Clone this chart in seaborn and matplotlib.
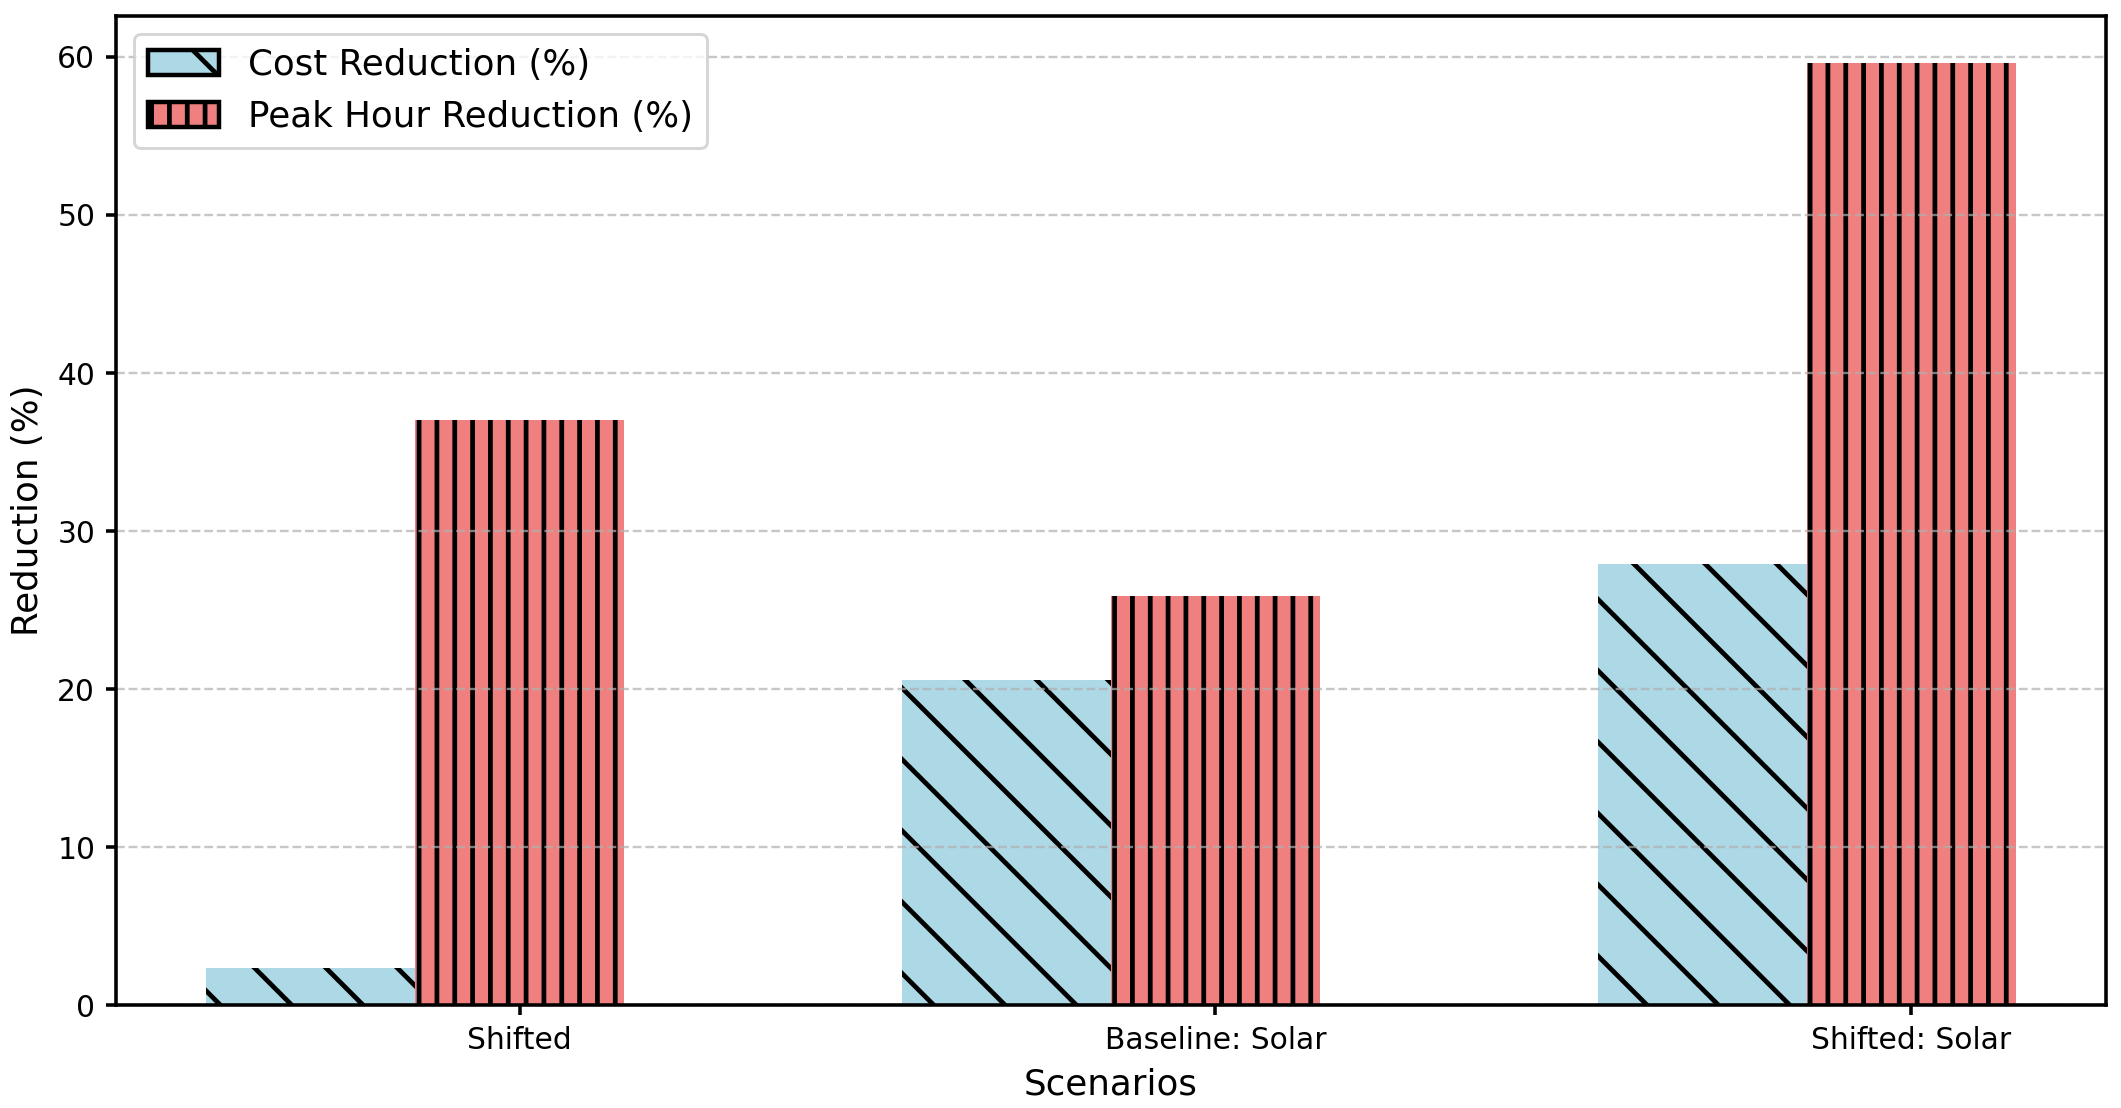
import pandas as pd
import matplotlib
matplotlib.use("Agg")
import matplotlib.pyplot as plt
from matplotlib.patches import Patch
import seaborn as sns

# Data
scenarios = ["Shifted", "Baseline: Solar", "Shifted: Solar"]
cost_reduction = [2.37, 20.6, 27.95]
peak_reduction = [37.0, 25.9, 59.6]
metrics = ["Cost Reduction (%)", "Peak Hour Reduction (%)"]
colors = ["lightblue", "lightcoral"]
hatches = ["\\", "||"]

df = pd.DataFrame({
    "Scenario": scenarios * 2,
    "Metric": [metrics[0]] * 3 + [metrics[1]] * 3,
    "Reduction": cost_reduction + peak_reduction,
})

plt.rcParams["hatch.color"] = "black"
plt.rcParams["hatch.linewidth"] = 1.6
plt.rcParams["axes.linewidth"] = 1.2
plt.rcParams["xtick.major.width"] = 1.2
plt.rcParams["ytick.major.width"] = 1.2

dpi = 214
fig, ax = plt.subplots(figsize=(2121 / dpi, 1108 / dpi), dpi=dpi)
fig.subplots_adjust(left=0.0547, right=0.99293, bottom=0.09251, top=0.98556)

sns.barplot(data=df, x="Scenario", y="Reduction", hue="Metric",
            palette=colors, saturation=1, width=0.6, errorbar=None, ax=ax,
            edgecolor="black", linewidth=0, legend=False)

# hatches per series
for container, h in zip(ax.containers, hatches):
    for bar in container:
        bar.set_hatch(h)
        bar.set_edgecolor("black")
        bar.set_linewidth(0)

# ticks sit under the second bar of each group
ax.set_xticks([i + 0.15 for i in range(len(scenarios))])
ax.set_xticklabels(scenarios, fontsize=10)
ax.tick_params(axis="y", labelsize=10)
ax.set_xlim(-0.43, 2.43)
ax.set_ylim(0, max(peak_reduction) * 1.05)

ax.set_xlabel("Scenarios", fontsize=12)
ax.set_ylabel("Reduction (%)", fontsize=12)
ax.grid(axis="y", linestyle="--", alpha=0.7)
ax.set_axisbelow("line")

handles = [Patch(facecolor=c, edgecolor="black", hatch=h, label=m, linewidth=1.5)
           for c, h, m in zip(colors, hatches, metrics)]
ax.legend(handles=handles, loc="upper left", fontsize=12)

plt.savefig("out.png", dpi=dpi)
